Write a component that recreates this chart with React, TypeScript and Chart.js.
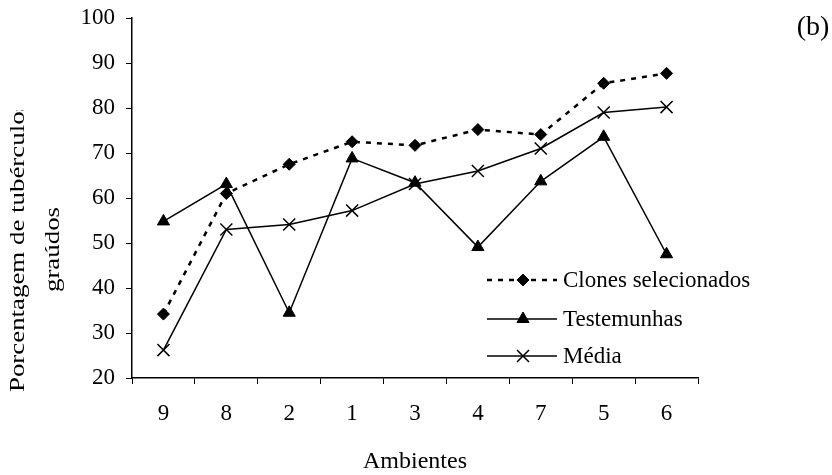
import React, { useEffect, useRef } from "react";
import { Chart, registerables } from "chart.js";
import { drawPoint } from "chart.js/helpers";

Chart.register(...registerables);

const categories = ["9", "8", "2", "1", "3", "4", "7", "5", "6"];
const clonesSelecionados = [34.2, 61.0, 67.5, 72.5, 71.7, 75.2, 74.1, 85.5, 87.7];
const testemunhas = [54.8, 63.1, 34.5, 68.8, 63.4, 49.1, 63.7, 73.6, 47.5];
const media = [26.2, 53.0, 54.1, 57.2, 63.1, 66.0, 71.0, 79.0, 80.2];
const seriesNames = ["Clones selecionados", "Testemunhas", "Média"];
const yTitleLines = ["Porcentagem de tubérculos", "graúdos"];
const xTitle = "Ambientes";
const panelLabel = "(b)";

const FONT = "'Liberation Serif', 'Times New Roman', serif";

const decorPlugin = {
  id: "decor",
  afterDraw(chart: any) {
    const ctx = chart.ctx;
    const area = chart.chartArea;
    ctx.save();
    ctx.fillStyle = "#000";
    // y title (two lines, clipped at top)
    ctx.save();
    ctx.beginPath();
    ctx.rect(0, 102, 120, 400);
    ctx.clip();
    ctx.font = `21px ${FONT}`;
    ctx.textAlign = "center";
    ctx.textBaseline = "alphabetic";
    const yPos = [
      [15.5, 238.5],
      [51, 241.5],
    ];
    yTitleLines.forEach((t, i) => {
      ctx.save();
      ctx.translate(yPos[i][0], yPos[i][1]);
      ctx.rotate(-Math.PI / 2);
      ctx.scale(1.28, 1);
      ctx.fillText(t, 0, 0);
      ctx.restore();
    });
    ctx.restore();

    // x title
    ctx.font = `24px ${FONT}`;
    ctx.textAlign = "center";
    ctx.textBaseline = "alphabetic";
    ctx.fillText(xTitle, (area.left + area.right) / 2, 460);

    // panel label
    ctx.font = `28px ${FONT}`;
    ctx.fillText(panelLabel, 805, 27);

    // legend
    const rows = [272, 311, 348];
    chart.data.datasets.forEach((ds: any, i: number) => {
      const y = rows[i];
      ctx.save();
      ctx.strokeStyle = ds.borderColor;
      ctx.lineWidth = ds.borderWidth;
      ctx.setLineDash(ds.borderDash || []);
      ctx.beginPath();
      ctx.moveTo(479, y);
      ctx.lineTo(549, y);
      ctx.stroke();
      ctx.setLineDash([]);
      ctx.fillStyle = ds.pointBackgroundColor;
      ctx.strokeStyle = ds.pointBorderColor;
      ctx.lineWidth = ds.pointBorderWidth;
      drawPoint(ctx, { pointStyle: ds.pointStyle, radius: ds.pointRadius, rotation: 0, borderWidth: ds.pointBorderWidth }, 515, y);
      ctx.restore();
      ctx.fillStyle = "#000";
      ctx.font = `23px ${FONT}`;
      ctx.textAlign = "left";
      ctx.textBaseline = "middle";
      ctx.fillText(ds.label, 555, y + 1);
    });
    ctx.restore();
  },
};

export default function App() {
  const ref = useRef<HTMLCanvasElement>(null);
  useEffect(() => {
    document.body.style.margin = "0";
    if (!ref.current) return;
    const chart = new Chart(ref.current, {
      type: "line",
      data: {
        labels: categories,
        datasets: [
          {
            label: seriesNames[0],
            data: clonesSelecionados,
            borderColor: "#000",
            borderWidth: 2.5,
            borderDash: [5, 6],
            pointStyle: "rectRot",
            pointRadius: 6,
            pointBackgroundColor: "#000",
            pointBorderColor: "#000",
            pointBorderWidth: 1,
            tension: 0,
          },
          {
            label: seriesNames[1],
            data: testemunhas,
            borderColor: "#000",
            borderWidth: 1.5,
            pointStyle: "triangle",
            pointRadius: 7,
            pointBackgroundColor: "#000",
            pointBorderColor: "#000",
            pointBorderWidth: 1,
            tension: 0,
          },
          {
            label: seriesNames[2],
            data: media,
            borderColor: "#000",
            borderWidth: 1.5,
            pointStyle: "crossRot",
            pointRadius: 8.5,
            pointBackgroundColor: "#000",
            pointBorderColor: "#000",
            pointBorderWidth: 1.5,
            tension: 0,
          },
        ],
      } as any,
      options: {
        animation: false,
        responsive: false,
        events: [],
        layout: { padding: { left: 0, right: 134, top: 7, bottom: 0 } },
        plugins: {
          legend: { display: false },
          tooltip: { enabled: false },
          title: { display: false },
        },
        scales: {
          x: {
            offset: true,
            grid: {
              display: true,
              offset: true,
              drawOnChartArea: false,
              drawTicks: true,
              tickLength: 6,
              color: "#000",
              lineWidth: 1,
            },
            border: { display: true, color: "#000", width: 1.5 },
            ticks: {
              color: "#000",
              font: { family: FONT, size: 23 },
              padding: 16,
              maxRotation: 0,
            },
            afterFit: (s: any) => {
              s.height = 97;
              s.paddingLeft = 0;
              s.paddingRight = 0;
            },
          },
          y: {
            min: 20,
            max: 100,
            grid: {
              display: true,
              drawOnChartArea: false,
              drawTicks: true,
              tickLength: 6,
              color: "#000",
              lineWidth: 1,
            },
            border: { display: true, color: "#000", width: 1.5 },
            ticks: {
              stepSize: 10,
              color: "#000",
              font: { family: FONT, size: 23 },
              padding: 11,
            },
            afterFit: (s: any) => {
              s.width = 124;
              s.paddingTop = 0;
              s.paddingBottom = 0;
            },
          },
        },
      } as any,
      plugins: [decorPlugin],
    });
    return () => chart.destroy();
  }, []);
  return (
    <div style={{ width: 832, height: 475, boxSizing: "border-box", padding: "8px 0 0 8px", overflow: "hidden" }}>
      <canvas ref={ref} width={824} height={467} style={{ display: "block" }} />
    </div>
  );
}
